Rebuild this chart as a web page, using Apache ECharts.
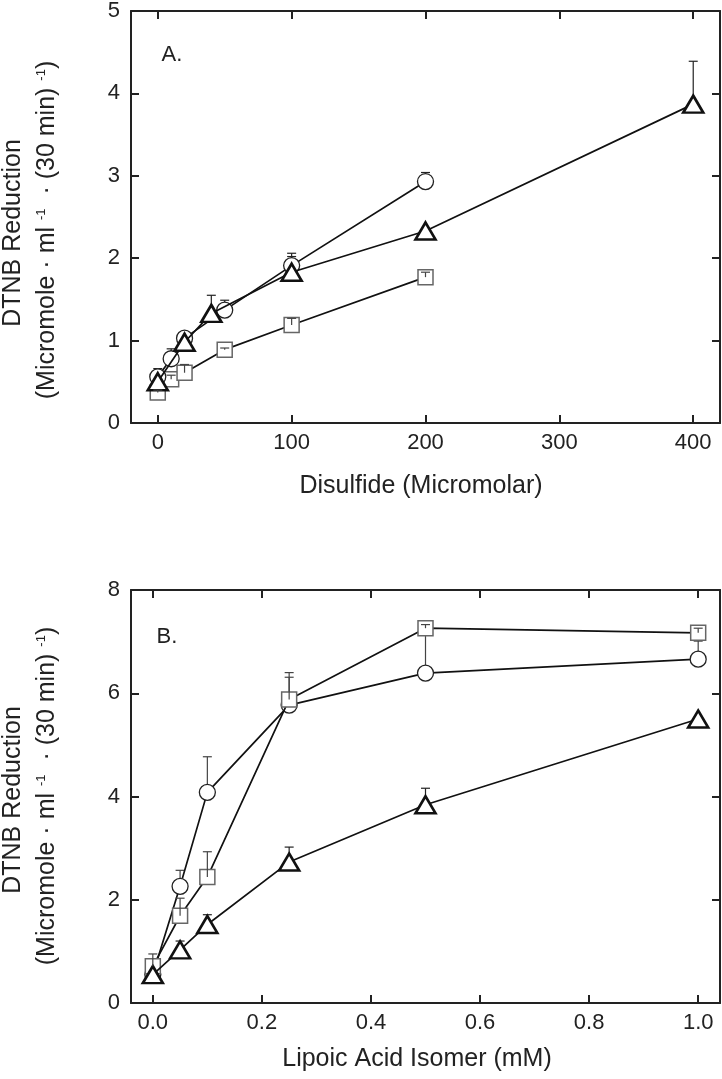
<!DOCTYPE html>
<html><head><meta charset="utf-8">
<script src="https://cdn.jsdelivr.net/npm/echarts@6/dist/echarts.min.js"></script>
<style>html,body{margin:0;padding:0;background:#fff}#c{width:722px;height:1079px}</style>
</head><body><div id="c"></div><script>
// ---- Panel A data (Disulfide, µM) ----
const A_TICKS_X = [0, 100, 200, 300, 400];
const A_CIRCLE_X = [0, 10, 20, 50, 100, 200];
const A_CIRCLE_Y = [0.56, 0.78, 1.03, 1.37, 1.91, 2.93];
const A_CIRCLE_E = [0.10, 0.12, 0.06, 0.12, 0.15, 0.11];
const A_TRI_X = [0, 20, 40, 100, 200, 400];
const A_TRI_Y = [0.50, 0.98, 1.33, 1.83, 2.33, 3.87];
const A_TRI_E = [0.04, 0.07, 0.22, 0.19, 0.03, 0.52];
const A_SQ_X = [0, 10, 20, 50, 100, 200];
const A_SQ_Y = [0.37, 0.53, 0.61, 0.89, 1.19, 1.77];
const A_SQ_E = [0.03, 0.05, 0.10, 0.02, 0.08, 0.06];
// ---- Panel B data (Lipoic acid isomer, mM) ----
const B_TICKS_X = [0, 0.2, 0.4, 0.6, 0.8, 1.0];
const B_X = [0, 0.05, 0.1, 0.25, 0.5, 1.0];
const B_CIRCLE_Y = [0.55, 2.26, 4.08, 5.77, 6.39, 6.66];
const B_CIRCLE_E = [0.10, 0.31, 0.69, 0.54, 0.85, 0.35];
const B_SQ_Y = [0.71, 1.69, 2.44, 5.88, 7.26, 7.17];
const B_SQ_E = [0.24, 0.34, 0.49, 0.52, 0.07, 0.09];
const B_TRI_Y = [0.55, 1.03, 1.52, 2.73, 3.84, 5.50];
const B_TRI_E = [0.02, 0.17, 0.19, 0.29, 0.32, 0.02];

const FONT = 'Liberation Sans, Arial, sans-serif';
const TXT = '#222';

function pairs(xs, ys) { return xs.map((x, i) => [x, ys[i]]); }
function errData(xs, ys, es) { return xs.map((x, i) => [x, ys[i], ys[i] + es[i]]); }

function errRender(color) {
  return function (params, api) {
    const x = api.value(0), y = api.value(1), t = api.value(2);
    const p = api.coord([x, y]), q = api.coord([x, t]);
    return { type: 'group', children: [
      { type: 'line', shape: { x1: p[0], y1: p[1], x2: q[0], y2: q[1] }, style: { stroke: color, lineWidth: 1.2 } },
      { type: 'line', shape: { x1: q[0] - 4.5, y1: q[1], x2: q[0] + 4.5, y2: q[1] }, style: { stroke: color, lineWidth: 1.2 } }
    ]};
  };
}

const MARK = {
  circle: { symbol: 'circle', symbolSize: 16, itemStyle: { color: '#fff', borderColor: '#222', borderWidth: 1.3 } },
  square: { symbol: 'rect', symbolSize: 15, itemStyle: { color: '#fff', borderColor: '#666', borderWidth: 1.5 } },
  tri: { symbol: 'triangle', symbolSize: [20, 17], itemStyle: { color: '#fff', borderColor: '#111', borderWidth: 2.6 } }
};

function lineSeries(kind, data, gi, z) {
  return Object.assign({
    type: 'line', data: data, xAxisIndex: gi * 2, yAxisIndex: gi * 2,
    showAllSymbol: true, z: z, animation: false, emphasis: { disabled: true },
    lineStyle: { color: '#111', width: 1.7 }
  }, MARK[kind]);
}
function errSeries(data, gi, z, color) {
  return { type: 'custom', data: data, xAxisIndex: gi * 2, yAxisIndex: gi * 2, z: z,
    renderItem: errRender(color), encode: { x: 0, y: 1 }, animation: false, silent: true };
}

const axLine = { show: true, onZero: false, lineStyle: { color: '#222', width: 2 } };
const tick = (vals) => ({ inside: true, length: 8, lineStyle: { color: '#222', width: 2 }, customValues: vals });
const lbl = { color: TXT, fontSize: 22, fontFamily: FONT };

function txt(x, y, text, size, extra) {
  return Object.assign({ type: 'text', x: x, y: y,
    style: { text: text, fontSize: size, fontFamily: FONT, fill: TXT, textAlign: 'center', textVerticalAlign: 'middle' } }, extra || {});
}

const option = {
  animation: false,
  grid: [
    { left: 131, top: 10, width: 589, height: 413 },
    { left: 131, top: 590, width: 589, height: 413 }
  ],
  xAxis: [
    { type: 'value', gridIndex: 0, min: -20, max: 420, position: 'bottom', axisLine: axLine, axisTick: tick(A_TICKS_X),
      axisLabel: Object.assign({ customValues: A_TICKS_X, margin: 9 }, lbl), splitLine: { show: false } },
    { type: 'value', gridIndex: 0, min: -20, max: 420, position: 'top', axisLine: axLine, axisTick: tick(A_TICKS_X),
      axisLabel: { show: false }, splitLine: { show: false } },
    { type: 'value', gridIndex: 1, min: -0.04, max: 1.04, position: 'bottom', axisLine: axLine, axisTick: tick(B_TICKS_X),
      axisLabel: Object.assign({ customValues: B_TICKS_X, margin: 9, formatter: v => v.toFixed(1) }, lbl), splitLine: { show: false } },
    { type: 'value', gridIndex: 1, min: -0.04, max: 1.04, position: 'top', axisLine: axLine, axisTick: tick(B_TICKS_X),
      axisLabel: { show: false }, splitLine: { show: false } }
  ],
  yAxis: [
    { type: 'value', gridIndex: 0, min: 0, max: 5, interval: 1, position: 'left', axisLine: axLine,
      axisTick: { inside: true, length: 8, lineStyle: { color: '#222', width: 2 } },
      axisLabel: Object.assign({ margin: 11 }, lbl), splitLine: { show: false } },
    { type: 'value', gridIndex: 0, min: 0, max: 5, interval: 1, position: 'right', axisLine: axLine,
      axisTick: { inside: true, length: 8, lineStyle: { color: '#222', width: 2 } },
      axisLabel: { show: false }, splitLine: { show: false } },
    { type: 'value', gridIndex: 1, min: 0, max: 8, interval: 2, position: 'left', axisLine: axLine,
      axisTick: { inside: true, length: 8, lineStyle: { color: '#222', width: 2 } },
      axisLabel: Object.assign({ margin: 11 }, lbl), splitLine: { show: false } },
    { type: 'value', gridIndex: 1, min: 0, max: 8, interval: 2, position: 'right', axisLine: axLine,
      axisTick: { inside: true, length: 8, lineStyle: { color: '#222', width: 2 } },
      axisLabel: { show: false }, splitLine: { show: false } }
  ],
  series: [
    errSeries(errData(A_CIRCLE_X, A_CIRCLE_Y, A_CIRCLE_E), 0, 1, '#222'),
    errSeries(errData(A_TRI_X, A_TRI_Y, A_TRI_E), 0, 1, '#222'),
    lineSeries('square', pairs(A_SQ_X, A_SQ_Y), 0, 2),
    lineSeries('circle', pairs(A_CIRCLE_X, A_CIRCLE_Y), 0, 3),
    lineSeries('tri', pairs(A_TRI_X, A_TRI_Y), 0, 4),
    errSeries(errData(A_SQ_X, A_SQ_Y, A_SQ_E), 0, 5, '#444'),

    errSeries(errData(B_X, B_CIRCLE_Y, B_CIRCLE_E), 1, 1, '#444'),
    errSeries(errData(B_X, B_TRI_Y, B_TRI_E), 1, 1, '#222'),
    lineSeries('circle', pairs(B_X, B_CIRCLE_Y), 1, 2),
    lineSeries('square', pairs(B_X, B_SQ_Y), 1, 3),
    lineSeries('tri', pairs(B_X, B_TRI_Y), 1, 4),
    errSeries(errData(B_X, B_SQ_Y, B_SQ_E), 1, 5, '#444')
  ],
  graphic: [
    txt(172, 55, 'A.', 22),
    txt(167, 637, 'B.', 22),
    txt(421, 486, 'Disulfide (Micromolar)', 25),
    txt(417, 1059, 'Lipoic Acid Isomer (mM)', 25),
    txt(13, 233, 'DTNB Reduction', 25, { rotation: Math.PI / 2 }),
    txt(13, 800, 'DTNB Reduction', 25, { rotation: Math.PI / 2 }),
    ...[230, 796].map(cy => ({ type: 'text', x: 47, y: cy, rotation: Math.PI / 2,
      style: { text: '(Micromole · ml {s|-1}  · (30 min) {s|-1})', fill: TXT, textAlign: 'center', textVerticalAlign: 'middle',
        fontSize: 25, fontFamily: FONT,
        rich: { s: { fontSize: 13, fontFamily: FONT, fill: TXT, color: TXT, verticalAlign: 'top' } } } }))
  ]
};

const chart = echarts.init(document.getElementById('c'), null, { renderer: 'canvas' });
chart.setOption(option);
</script></body></html>
